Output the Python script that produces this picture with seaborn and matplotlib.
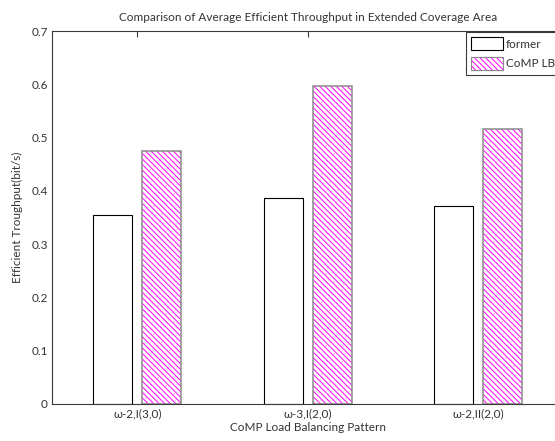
import matplotlib
matplotlib.use("Agg")
import matplotlib.pyplot as plt
import seaborn as sns
import pandas as pd
from matplotlib.patches import Patch, Rectangle
from matplotlib.legend_handler import HandlerPatch

# Average efficient throughput per load balancing pattern
patterns = ["ω-2,I(3,0)", "ω-3,I(2,0)", "ω-2,II(2,0)"]
former = [0.355, 0.386, 0.371]
comp_lb = [0.474, 0.596, 0.517]
series_names = ["former", "CoMP LB"]
y_ticks = [0, 0.1, 0.2, 0.3, 0.4, 0.5, 0.6, 0.7]
y_tick_labels = ["0", "0.1", "0.2", "0.3", "0.4", "0.5", "0.6", "0.7"]

df = pd.DataFrame({
    "pattern": patterns * 2,
    "throughput": former + comp_lb,
    "scheme": [series_names[0]] * len(patterns) + [series_names[1]] * len(patterns),
})

sns.set_theme(style="white")
plt.rcParams["font.family"] = ["Lato", "DejaVu Sans"]
plt.rcParams["hatch.linewidth"] = 0.7
plt.rcParams["axes.spines.right"] = False

text_color = "#333333"
axis_color = "#3a3a3a"
hatch_color = "#ff00ff"
outline_color = "#8a8a8a"
hatch = "\\" * 6
fs = 8.5

fig = plt.figure(figsize=(5.55, 4.41), dpi=100)
ax = fig.add_axes([52 / 555, 37 / 441, 511.5 / 555, 373 / 441])
ax.patch.set_edgecolor("none")
ax.patch.set_linewidth(0)

sns.barplot(
    data=df, x="pattern", y="throughput", hue="scheme",
    order=patterns, hue_order=series_names,
    palette=["white", "white"], saturation=1,
    width=0.576, gap=0.2, errorbar=None, legend=False, ax=ax,
)

# plain outlined bars for the former scheme
for bar in ax.containers[0]:
    bar.set_facecolor("white")
    bar.set_edgecolor("black")
    bar.set_linewidth(0.8)

# magenta hatched bars for CoMP LB, outlined in grey on top
for bar in ax.containers[1]:
    bar.set_facecolor("white")
    bar.set_hatch(hatch)
    bar.set_edgecolor(hatch_color)
    bar.set_linewidth(0)
    ax.add_patch(Rectangle((bar.get_x(), bar.get_y()), bar.get_width(), bar.get_height(),
                           facecolor="none", edgecolor=outline_color, linewidth=1.1,
                           zorder=bar.get_zorder() + 0.1))

ax.set_xlim(-0.5, 2.5)
ax.set_ylim(0, 0.7)
ax.set_yticks(y_ticks)
ax.set_yticklabels(y_tick_labels)
ax.set_xticks(range(len(patterns)))
ax.set_xticklabels(patterns)

ax.tick_params(axis="both", direction="in", length=4, width=0.8,
               colors=axis_color, labelcolor=text_color, labelsize=fs,
               top=True, right=False, labelright=False, pad=3)
for side in ["left", "bottom", "top"]:
    ax.spines[side].set_color(axis_color)
    ax.spines[side].set_linewidth(0.8)
ax.spines["right"].set_visible(False)

ax.set_xlabel("CoMP Load Balancing Pattern", fontsize=fs, color=text_color, labelpad=2)
ax.set_ylabel("Efficient Troughput(bit/s)", fontsize=fs, color=text_color, labelpad=6)
ax.set_title("Comparison of Average Efficient Throughput in Extended Coverage Area",
             fontsize=fs, color=text_color, pad=7)


class OutlinedHatch(HandlerPatch):
    """Legend key: magenta hatch with a grey frame drawn over it."""

    def create_artists(self, legend, orig_handle, xdescent, ydescent,
                       width, height, fontsize, trans):
        fill = Rectangle((-xdescent, -ydescent), width, height, facecolor="white",
                         edgecolor=hatch_color, hatch=hatch, linewidth=0, transform=trans)
        frame = Rectangle((-xdescent, -ydescent), width, height, facecolor="none",
                          edgecolor=outline_color, linewidth=0.8, transform=trans)
        return [fill, frame]


legend_former = Patch(facecolor="white", edgecolor="black", linewidth=0.8)
legend_comp = Patch(facecolor="white", edgecolor=hatch_color, hatch=hatch)
leg = ax.legend([legend_former, legend_comp], series_names, loc="upper left",
                bbox_to_anchor=((466 - 52) / 511.5, 0.998), borderaxespad=0,
                fontsize=fs, frameon=True, fancybox=False, shadow=False,
                handlelength=2.7, handleheight=1.35, handletextpad=0.25,
                labelspacing=0.55, borderpad=0.45, labelcolor=text_color,
                handler_map={legend_comp: OutlinedHatch()})
leg.get_frame().set_edgecolor(axis_color)
leg.get_frame().set_linewidth(0.8)
leg.get_frame().set_alpha(1)

fig.savefig("out.png", dpi=100)
